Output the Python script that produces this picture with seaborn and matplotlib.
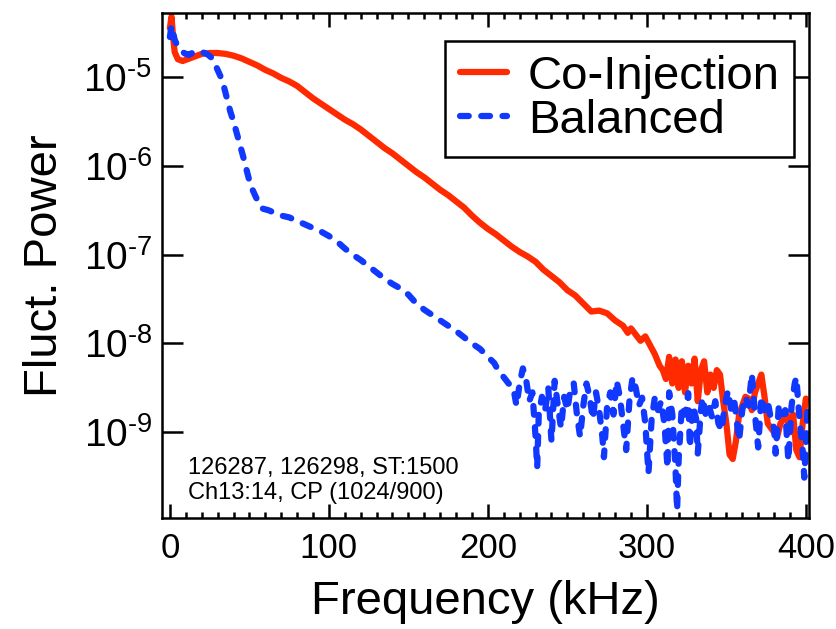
import numpy as np
import pandas as pd
import seaborn as sns
import matplotlib.pyplot as plt
from matplotlib.ticker import MultipleLocator, NullLocator, LogLocator, FuncFormatter

sns.set_style('ticks')
plt.rcParams['font.family'] = ['Liberation Sans', 'DejaVu Sans']
plt.rcParams['mathtext.fontset'] = 'custom'
plt.rcParams['mathtext.rm'] = 'Liberation Sans'
plt.rcParams['axes.unicode_minus'] = False
for key in ['text.color', 'axes.labelcolor', 'xtick.color', 'ytick.color', 'axes.edgecolor']:
    plt.rcParams[key] = 'black'

# Co-Injection spectrum: frequency (kHz) and log10(power)
coinj_khz = [0, 1, 2, 3, 5, 8, 11, 14, 17, 20, 25, 30, 35, 40, 45, 50, 55, 60, 65, 70,
             75, 80, 85, 90, 95, 100, 105, 110, 115, 120, 125, 130, 135, 140, 145, 150,
             155, 160, 165, 170, 175, 180, 185, 190, 195, 200, 205, 210, 215, 220, 225,
             230, 235, 240, 245, 250, 255, 260, 265, 270, 275, 280, 285, 288, 290, 293,
             296, 299, 302, 305, 308, 310, 312, 314, 316, 318, 320, 322, 324, 326, 328,
             330, 332, 334, 336, 338, 340, 342, 344, 346, 348, 350, 352, 354, 356, 358,
             360, 362, 364, 366, 368, 370, 372, 374, 376, 378, 380, 382, 384, 386, 388,
             390, 392, 394, 396, 398, 400]
coinj_log = [-4.45, -4.32, -4.55, -4.72, -4.80, -4.82, -4.80, -4.78, -4.76, -4.74, -4.73,
             -4.73, -4.74, -4.76, -4.79, -4.83, -4.87, -4.92, -4.96, -5.01, -5.05, -5.10,
             -5.17, -5.24, -5.30, -5.36, -5.42, -5.48, -5.53, -5.59, -5.66, -5.73, -5.80,
             -5.86, -5.93, -6.00, -6.07, -6.13, -6.20, -6.27, -6.33, -6.40, -6.47, -6.56,
             -6.64, -6.71, -6.77, -6.84, -6.91, -6.97, -7.02, -7.08, -7.17, -7.24, -7.31,
             -7.40, -7.46, -7.55, -7.64, -7.63, -7.66, -7.74, -7.80, -7.88, -7.83, -7.90,
             -7.97, -7.92, -8.02, -8.12, -8.25, -8.30, -8.40, -8.15, -8.45, -8.18, -8.50,
             -8.20, -8.55, -8.25, -8.45, -8.17, -8.65, -8.30, -8.20, -8.55, -8.35, -8.50,
             -8.30, -8.35, -8.65, -8.90, -9.25, -9.30, -9.10, -8.80, -8.70, -8.60, -8.62,
             -8.75, -8.55, -8.45, -8.35, -8.60, -8.90, -8.95, -9.00, -9.05, -8.90, -8.85,
             -8.80, -9.00, -8.80, -9.20, -9.28, -8.90, -8.62]

# Balanced spectrum
bal_khz = [0, 1, 2, 3, 4, 6, 8, 10, 12, 14, 16, 18, 20, 22, 24, 26, 28, 30, 32, 34, 36,
           38, 40, 42, 44, 46, 48, 50, 52, 54, 56, 58, 62, 66, 70, 75, 80, 85, 90, 95,
           100, 105, 110, 115, 120, 125, 130, 135, 140, 145, 150, 155, 160, 165, 170,
           175, 180, 185, 190, 195, 200, 204, 207, 210, 213, 216, 218, 220, 222, 224,
           226, 228, 230, 231, 232, 234, 236, 238, 240, 242, 244, 246, 248, 250, 252,
           254, 256, 258, 260, 262, 264, 266, 268, 270, 272, 273, 275, 277, 279, 281,
           283, 285, 287, 289, 291, 293, 295, 297, 299, 301, 303, 305, 307, 309, 311,
           313, 314, 316, 318, 319, 320, 322, 324, 326, 327, 329, 331, 332, 334, 335,
           337, 339, 341, 343, 345, 347, 349, 351, 353, 355, 358, 360, 362, 364, 366,
           368, 370, 372, 374, 376, 378, 380, 381, 383, 385, 387, 389, 391, 393, 394,
           396, 398, 399, 400, 401]
bal_log = [-4.55, -4.42, -4.50, -4.58, -4.62, -4.68, -4.72, -4.74, -4.75, -4.73, -4.71,
           -4.72, -4.72, -4.73, -4.75, -4.78, -4.84, -4.92, -5.00, -5.11, -5.25, -5.39,
           -5.50, -5.63, -5.76, -5.89, -6.03, -6.17, -6.27, -6.35, -6.42, -6.48, -6.50,
           -6.53, -6.56, -6.58, -6.62, -6.66, -6.70, -6.74, -6.79, -6.85, -6.93, -7.00,
           -7.06, -7.13, -7.20, -7.27, -7.33, -7.38, -7.45, -7.55, -7.62, -7.68, -7.74,
           -7.80, -7.86, -7.93, -8.00, -8.06, -8.15, -8.22, -8.32, -8.38, -8.45, -8.50,
           -8.70, -8.45, -8.28, -8.40, -8.65, -8.55, -9.05, -9.40, -8.80, -8.60, -8.75,
           -8.50, -9.10, -8.42, -8.70, -8.95, -8.60, -8.75, -8.50, -8.45, -8.80, -9.05,
           -8.70, -8.45, -8.60, -8.85, -8.55, -8.75, -9.05, -9.28, -8.70, -8.55, -8.80,
           -8.42, -8.60, -8.90, -9.20, -8.65, -8.38, -8.50, -8.70, -8.61, -8.90, -9.46,
           -8.85, -8.61, -8.75, -8.65, -8.90, -9.40, -8.55, -8.80, -9.40, -9.88, -9.30,
           -8.70, -8.80, -8.56, -9.17, -8.70, -8.85, -9.24, -8.75, -8.61, -8.80, -8.70,
           -8.83, -8.65, -8.90, -8.98, -8.70, -8.53, -8.75, -8.65, -9.09, -8.75, -8.60,
           -8.70, -8.34, -8.80, -9.17, -8.60, -8.75, -8.65, -8.85, -8.95, -9.24, -8.70,
           -8.80, -8.75, -9.32, -8.70, -8.45, -8.38, -8.85, -9.20, -9.51, -9.15, -8.75]

df = pd.concat([
    pd.DataFrame({'freq': coinj_khz, 'power': 10.0 ** np.array(coinj_log), 'shot': 'Co-Injection'}),
    pd.DataFrame({'freq': bal_khz, 'power': 10.0 ** np.array(bal_log), 'shot': 'Balanced'}),
], ignore_index=True)

colors = {'Co-Injection': '#ff2a00', 'Balanced': '#1038ff'}
dashes = {'Co-Injection': '', 'Balanced': (1.4, 2.0)}

fig = plt.figure(figsize=(8.37, 6.29), dpi=100)
ax = fig.add_axes([0.1935, 0.1765, 0.7731, 0.8028])

sns.lineplot(data=df, x='freq', y='power', hue='shot', style='shot',
             palette=colors, dashes=dashes, estimator=None, sort=False,
             linewidth=4.5, ax=ax)
for ln in ax.get_lines():
    ln.set_dash_capstyle('round')
    ln.set_solid_capstyle('round')

ax.set_yscale('log')
ax.set_xlim(-5, 402)
ax.set_ylim(1.086e-10, 5.25e-5)

ax.xaxis.set_major_locator(MultipleLocator(100))
ax.xaxis.set_minor_locator(MultipleLocator(10))
ax.yaxis.set_major_locator(LogLocator(base=10, numticks=20))
ax.yaxis.set_minor_locator(NullLocator())
ax.yaxis.set_major_formatter(FuncFormatter(
    lambda v, pos: r'$\mathdefault{10^{\text{-}%d}}$' % round(-np.log10(v))))
ax.tick_params(which='both', direction='in', top=True, right=True, width=1.8, color='black')
ax.tick_params(axis='y', which='major', length=15, labelsize=28, pad=7)
ax.tick_params(axis='x', which='major', length=10, labelsize=25, pad=10)
ax.tick_params(axis='x', which='minor', length=4)
for sp in ax.spines.values():
    sp.set_linewidth(1.8)
    sp.set_color('black')

ax.set_xlabel('Frequency (kHz)', fontsize=34, labelpad=11)
ax.set_ylabel('Fluct. Power', fontsize=34, labelpad=12)

h, l = ax.get_legend_handles_labels()
ax.legend(h, l, loc='upper right', bbox_to_anchor=(0.977, 0.945), borderaxespad=0,
          fontsize=34, frameon=True, fancybox=False, edgecolor='black', framealpha=1,
          handlelength=1.0, handletextpad=0.45, labelspacing=0.0, borderpad=0.3)
ax.get_legend().get_frame().set_linewidth(1.8)

ax.text(0.04, 0.12, '126287, 126298, ST:1500\nCh13:14, CP (1024/900)',
        transform=ax.transAxes, fontsize=17, va='top', ha='left', linespacing=1.15)

fig.savefig('out.png', dpi=100)
